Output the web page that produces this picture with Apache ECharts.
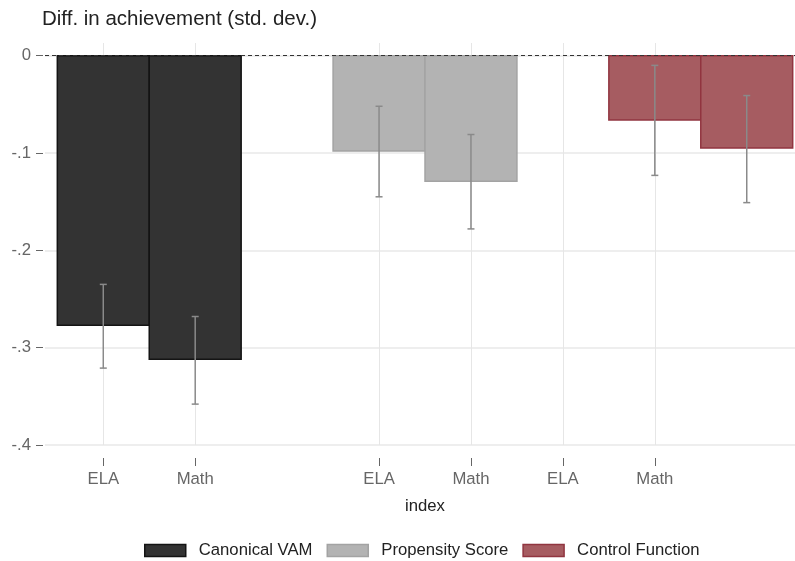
<!DOCTYPE html>
<html>
<head>
<meta charset="utf-8">
<script src="https://cdn.jsdelivr.net/npm/echarts@6/dist/echarts.min.js"></script>
<style>
  html, body { margin: 0; padding: 0; background: #fff; }
  #chart { width: 795px; height: 561px; }
</style>
</head>
<body>
<div id="chart"></div>
<script>
// x positions of the tick labels and the bars
var tickPos = [1, 2, 4, 5, 6, 7];
var tickNames = ['ELA', 'Math', 'ELA', 'Math', 'ELA', 'Math'];
var yTicks = [-0.4, -0.3, -0.2, -0.1, 0];

// each method: bar position, estimate, lower and upper CI
var vamPos = [1, 2];
var vamEst = [-0.277, -0.312];
var vamLo = [-0.321, -0.358];
var vamHi = [-0.235, -0.268];

var psPos = [4, 5];
var psEst = [-0.098, -0.129];
var psLo = [-0.145, -0.178];
var psHi = [-0.052, -0.081];

var cfPos = [7, 8];
var cfEst = [-0.066, -0.095];
var cfLo = [-0.123, -0.151];
var cfHi = [-0.010, -0.041];

var FONT = 'Helvetica, "Liberation Sans", Arial, sans-serif';

function rows(pos, est, lo, hi) {
  return pos.map(function (p, i) { return [p, est[i], lo[i], hi[i]]; });
}

function makeRender(fill, stroke) {
  return function (params, api) {
    var x = api.value(0);
    var a = api.coord([x - 0.5, 0]);
    var b = api.coord([x + 0.5, api.value(1)]);
    var lo = api.coord([x, api.value(2)]);
    var hi = api.coord([x, api.value(3)]);
    var errStyle = { stroke: '#8a8a8a', lineWidth: 1.5 };
    return {
      type: 'group',
      children: [
        { type: 'rect',
          shape: { x: a[0], y: a[1], width: b[0] - a[0], height: b[1] - a[1] },
          style: { fill: fill, stroke: stroke, lineWidth: 1.5 } },
        { type: 'line', shape: { x1: hi[0], y1: hi[1], x2: lo[0], y2: lo[1] }, style: errStyle },
        { type: 'line', shape: { x1: hi[0] - 3.5, y1: hi[1], x2: hi[0] + 3.5, y2: hi[1] }, style: errStyle },
        { type: 'line', shape: { x1: lo[0] - 3.5, y1: lo[1], x2: lo[0] + 3.5, y2: lo[1] }, style: errStyle }
      ]
    };
  };
}

var methods = [
  { name: 'Canonical VAM', fill: '#333333', stroke: '#141414', data: rows(vamPos, vamEst, vamLo, vamHi) },
  { name: 'Propensity Score', fill: '#b3b3b3', stroke: '#a3a3a3', data: rows(psPos, psEst, psLo, psHi) },
  { name: 'Control Function', fill: '#a65c61', stroke: '#913540', data: rows(cfPos, cfEst, cfLo, cfHi) }
];

var series = methods.map(function (m) {
  return {
    type: 'custom',
    name: m.name,
    renderItem: makeRender(m.fill, m.stroke),
    itemStyle: { color: m.fill, borderColor: m.stroke, borderWidth: 1.5 },
    encode: { x: 0, y: 1 },
    data: m.data,
    silent: true
  };
});

// dashed zero line
series.push({
  type: 'line',
  name: 'zero',
  data: [],
  z: 10,
  markLine: {
    silent: true,
    symbol: ['none', 'none'],
    label: { show: false },
    lineStyle: { color: '#333', type: [4, 3], width: 1 },
    data: [{ yAxis: 0 }]
  }
});

var chart = echarts.init(document.getElementById('chart'));
chart.setOption({
  animation: false,
  backgroundColor: '#fff',
  title: {
    text: 'Diff. in achievement (std. dev.)',
    left: 42, top: 9, padding: 0,
    textStyle: { fontFamily: FONT, fontSize: 20.5, fontWeight: 'normal', color: '#222' }
  },
  grid: { left: 45, right: 0, top: 43, bottom: 116 },
  legend: {
    data: methods.map(function (m) {
      return { name: m.name, itemStyle: { color: m.fill, borderColor: m.stroke, borderWidth: 1.5 } };
    }),
    top: 537,
    left: 139,
    icon: 'rect',
    itemWidth: 41,
    itemHeight: 12,
    itemGap: 14,
    textStyle: { fontFamily: FONT, fontSize: 16.7, color: '#222', padding: [0, 0, 0, 8] }
  },
  xAxis: {
    type: 'value',
    min: 0.366,
    max: 8.525,
    offset: 13,
    name: 'index',
    nameLocation: 'middle',
    nameGap: 40,
    nameTextStyle: { fontFamily: FONT, fontSize: 16.7, color: '#222', padding: [0, 0, 0, 10] },
    axisLine: { show: false, onZero: false },
    axisTick: { show: true, length: 8, customValues: tickPos, lineStyle: { color: '#666' } },
    axisLabel: {
      customValues: tickPos,
      margin: 13,
      fontFamily: FONT, fontSize: 16.7, color: '#666',
      formatter: function (v) {
        var i = tickPos.indexOf(v);
        return i >= 0 ? tickNames[i] : '';
      }
    },
    splitLine: { show: true, lineStyle: { color: '#e6e6e6', width: 1 } }
  },
  yAxis: {
    type: 'value',
    min: -0.4,
    max: 0.013,
    offset: 2,
    axisLine: { show: false, onZero: false },
    axisTick: { show: true, length: 7, customValues: yTicks, lineStyle: { color: '#666' } },
    axisLabel: {
      customValues: yTicks,
      margin: 12,
      fontFamily: FONT, fontSize: 16.7, color: '#666',
      formatter: function (v) {
        if (Math.abs(v) < 1e-9) return '0';
        return (v < 0 ? '-' : '') + Math.abs(v).toFixed(1).replace(/^0/, '');
      }
    },
    splitLine: { show: true, lineStyle: { color: '#e8e8e8', width: 1.5 } }
  },
  series: series
});
</script>
</body>
</html>
